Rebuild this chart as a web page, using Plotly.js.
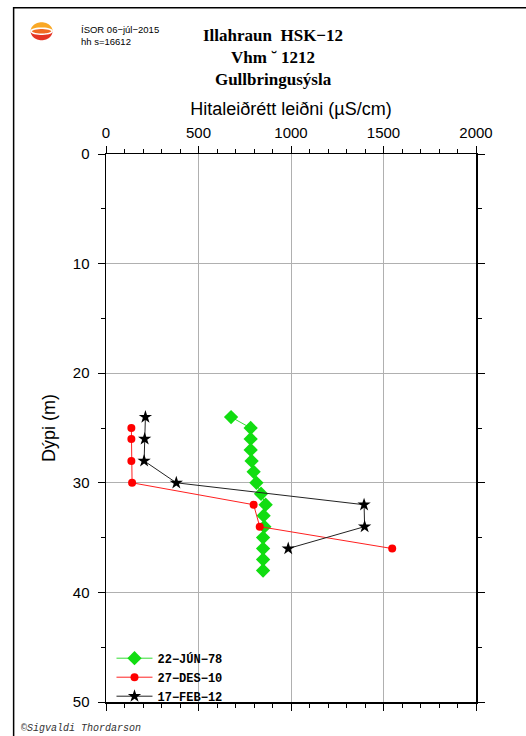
<!DOCTYPE html>
<html>
<head>
<meta charset="utf-8">
<script src="https://cdn.plot.ly/plotly-3.0.1.min.js"></script>
<style>html,body{margin:0;padding:0;background:#fff;}#chart{width:526px;height:736px;}</style>
</head>
<body>
<div id="chart"></div>
<script>
// ---- data ----
const depthJun78 = [24, 25, 26, 27, 28, 29, 30, 31, 32, 33, 34, 35, 36, 37, 38];
const condJun78  = [676, 782, 782, 782, 787, 798, 813, 838, 863, 852, 856, 849, 849, 849, 849];
const depthDes10 = [25, 26, 28, 30, 32, 34, 36];
const condDes10  = [137, 137, 137, 141, 798, 831, 1547];
const depthFeb12 = [24, 26, 28, 30, 32, 34, 36];
const condFeb12  = [213, 209, 206, 380, 1395, 1398, 985];
const seriesNames = ['22\u2212JÚN\u221278', '27\u2212DES\u221210', '17\u2212FEB\u221212'];
const xTicks = [0, 500, 1000, 1500, 2000];
const yTicks = [0, 10, 20, 30, 40, 50];

// ---- layout helpers (pixel -> paper) ----
const L = 105.5, R = 476, T = 154.3, B = 702.3;
const px = v => (v - L) / (R - L);
const py = v => (B - v) / (B - T);

const traces = [
  {x: condJun78, y: depthJun78, name: seriesNames[0], mode: 'lines+markers',
   line: {color: '#33dd33', width: 1}, marker: {symbol: 'diamond', size: 11, color: '#11dd11'}},
  {x: condDes10, y: depthDes10, name: seriesNames[1], mode: 'lines+markers',
   line: {color: '#ff2020', width: 1}, marker: {symbol: 'circle', size: 8, color: '#ff0000'}},
  {x: condFeb12, y: depthFeb12, name: seriesNames[2], mode: 'lines+markers',
   line: {color: '#222222', width: 1}, marker: {symbol: 'star', size: 10, color: '#000000'}}
];

// logo shapes
const cx = 41, cy = 31.5, rx = 11, ry = 9;
function arcPath(a0, a1, n) {
  let d = '';
  for (let i = 0; i <= n; i++) {
    const a = a0 + (a1 - a0) * i / n;
    const X = px(cx + rx * Math.cos(a)), Y = py(cy - ry * Math.sin(a));
    d += (i === 0 ? 'M' : 'L') + X + ',' + Y;
  }
  return d + 'Z';
}
function lens(h) {
  let d = '';
  const n = 30;
  for (let i = 0; i <= n; i++) {
    const a = 2 * Math.PI * i / n;
    const X = px(cx + (rx - 0.5) * Math.cos(a)), Y = py(cy - h * Math.sin(a));
    d += (i === 0 ? 'M' : 'L') + X + ',' + Y;
  }
  return d + 'Z';
}

const shapes = [
  // page frame
  {type: 'rect', xref: 'paper', yref: 'paper', x0: px(13), x1: px(540), y0: py(8), y1: py(760),
   line: {color: '#000', width: 1.5}, fillcolor: 'rgba(0,0,0,0)', layer: 'below'},
  // logo
  {type: 'path', xref: 'paper', yref: 'paper', path: arcPath(0, Math.PI, 30),
   fillcolor: '#f9a825', line: {width: 0}},
  {type: 'path', xref: 'paper', yref: 'paper', path: arcPath(Math.PI, 2 * Math.PI, 30),
   fillcolor: '#e53424', line: {width: 0}},
  {type: 'path', xref: 'paper', yref: 'paper', path: lens(3),
   fillcolor: '#f06a22', line: {color: '#ffffff', width: 1.6}}
];

const fontSans = 'Liberation Sans, Arial, Helvetica, sans-serif';
const fontSerif = 'Liberation Serif, Times New Roman, serif';
function ann(text, x, y, xanchor, font) {
  return {text: text, x: px(x), y: py(y), xref: 'paper', yref: 'paper', xanchor: xanchor,
          yanchor: 'middle', align: xanchor === 'left' ? 'left' : 'center', showarrow: false, font: font};
}
const annotations = [
  ann('<b>Illahraun  HSK\u221212<br>Vhm \u02D8 1212<br>Gullbringusýsla</b>', 273, 57.5, 'center',
      {family: fontSerif, size: 17, color: '#000'}),
  ann('ÍSOR 06\u2212júl\u22122015<br>hh s=16612', 78, 36, 'left', {family: fontSans, size: 9.5, color: '#000'}),
  ann('<i>©Sigvaldi Thordarson</i>', 18, 728.5, 'left', {family: 'Liberation Mono, Courier New, monospace', size: 10, color: '#333'})
];

const layout = {
  width: 526, height: 736,
  margin: {l: L, r: 526 - R, t: T, b: 736 - B, pad: 0},
  paper_bgcolor: '#fff', plot_bgcolor: '#fff',
  showlegend: true,
  legend: {x: px(111), y: py(644), xanchor: 'left', yanchor: 'top', bgcolor: 'rgba(255,255,255,0)',
           itemwidth: 36,
           font: {family: 'Liberation Mono, Courier New, monospace', size: 12, color: '#000', weight: 'bold'},
           tracegroupgap: 0},
  xaxis: {
    side: 'top', range: [0, 2000], tickvals: xTicks, ticktext: xTicks.map(String),
    showgrid: true, gridcolor: '#b0b0b0', gridwidth: 1, zeroline: false,
    showline: true, linecolor: '#000', linewidth: 1.5, mirror: 'allticks',
    ticks: 'outside', ticklen: 7, tickcolor: '#000', tickwidth: 1,
    minor: {dtick: 100, ticks: 'outside', ticklen: 4, tickcolor: '#000', tickwidth: 1, showgrid: false},
    tickfont: {family: fontSans, size: 15, color: '#000'}, ticklabelstandoff: 2,
    title: {text: 'Hitaleiðrétt leiðni (µS/cm)', font: {family: fontSans, size: 18, color: '#000'}, standoff: 3}
  },
  yaxis: {
    range: [50, 0], tickvals: yTicks, ticktext: yTicks.map(String),
    showgrid: true, gridcolor: '#b0b0b0', gridwidth: 1, zeroline: false,
    showline: true, linecolor: '#000', linewidth: 1.5, mirror: 'allticks',
    ticks: 'outside', ticklen: 7, tickcolor: '#000', tickwidth: 1,
    minor: {dtick: 5, ticks: 'outside', ticklen: 4, tickcolor: '#000', tickwidth: 1, showgrid: false},
    tickfont: {family: fontSans, size: 15, color: '#000'}, ticklabelstandoff: 5,
    title: {text: 'Dýpi (m)', font: {family: fontSans, size: 18, color: '#000'}, standoff: 12}
  },
  shapes: shapes,
  annotations: annotations
};

Plotly.newPlot('chart', traces, layout, {displayModeBar: false, staticPlot: true});
</script>
</body>
</html>
